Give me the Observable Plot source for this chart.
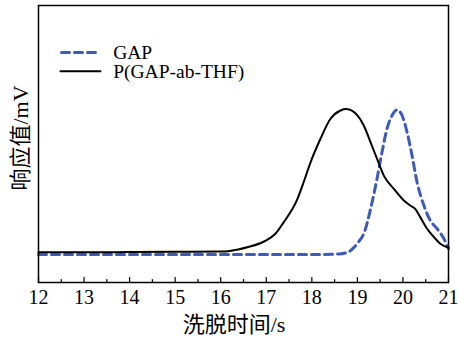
<!DOCTYPE html>
<html>
<head>
<meta charset="utf-8">
<script src="https://cdn.jsdelivr.net/npm/d3@7"></script>
<script src="https://cdn.jsdelivr.net/npm/@observablehq/plot@0.6"></script>
<style>
  html, body { margin: 0; padding: 0; background: #fff; }
</style>
</head>
<body>
<div id="chart"></div>
<script>
// Elution time (s) and response (arbitrary mV scale)
const gapTime = [12, 13, 14, 15, 16, 17, 18, 18.6, 18.8, 18.92, 19.05, 19.14, 19.29, 19.43, 19.54, 19.65, 19.76, 19.87, 19.98, 20.09, 20.2, 20.31, 20.46, 20.6, 20.75, 20.9, 21];
const gapValue = [10.1, 10.1, 10.1, 10.1, 10.1, 10.1, 10.1, 10.3, 11.0, 12.6, 15.2, 17.6, 26.6, 37.4, 47.0, 55.5, 60.3, 62.3, 60.3, 54.3, 45.8, 36.2, 27.8, 22.4, 19.4, 15.8, 12.2];

const copTime = [12, 13, 14, 15, 16, 16.2, 16.6, 16.95, 17.2, 17.38, 17.68, 17.82, 17.97, 18.19, 18.41, 18.63, 18.76, 19.0, 19.14, 19.29, 19.43, 19.58, 19.8, 20.02, 20.16, 20.27, 20.38, 20.53, 20.68, 20.82, 21];
const copValue = [10.9, 10.9, 11.0, 11.1, 11.2, 11.4, 12.8, 14.8, 17.6, 21.7, 30.0, 36.2, 43.3, 51.9, 59.1, 62.1, 62.6, 60.3, 56.7, 50.6, 44.7, 38.6, 33.8, 29.6, 27.8, 26.6, 23.6, 19.4, 16.4, 14.0, 12.6];

const seriesNames = ["GAP", "P(GAP-ab-THF)"];
const majorTicks = [12, 13, 14, 15, 16, 17, 18, 19, 20, 21];
const minorTicks = [12.5, 13.5, 14.5, 15.5, 16.5, 17.5, 18.5, 19.5, 20.5];
const xLabel = "洗脱时间/s";
const yLabel = "响应值/mV";

const gapData = gapTime.map((t, i) => ({t, v: gapValue[i]}));
const copData = copTime.map((t, i) => ({t, v: copValue[i]}));

const serif = "Liberation Serif, Times New Roman, DejaVu Serif, Noto Sans CJK SC, serif";
const blue = "#3F5BB5";

const vTick = { draw(context, l) { context.moveTo(0, 0); context.lineTo(0, -l); } };
const hLine = { draw(context, l) { context.moveTo(0, 0); context.lineTo(l, 0); } };

const chart = Plot.plot({
  width: 458,
  height: 341,
  marginLeft: 38,
  marginRight: 10,
  marginTop: 5,
  marginBottom: 59,
  style: { background: "#fff", color: "#000", fontFamily: serif },
  x: { domain: [12, 21] },
  y: { domain: [0, 100], axis: null },
  marks: [
    Plot.line(gapData, { x: "t", y: "v", stroke: blue, strokeWidth: 3, strokeDasharray: "8,5", curve: "monotone-x" }),
    Plot.line(copData, { x: "t", y: "v", stroke: "#000", strokeWidth: 2, curve: "monotone-x" }),
    Plot.vector(majorTicks, { x: d => d, frameAnchor: "bottom", length: 5, anchor: "start", shape: vTick, stroke: "#000", strokeWidth: 1.2 }),
    Plot.vector(minorTicks, { x: d => d, frameAnchor: "bottom", length: 3, anchor: "start", shape: vTick, stroke: "#000", strokeWidth: 1.2 }),
    Plot.axisX(majorTicks, { tickSize: 0, tickPadding: 7, fontSize: 20, fontFamily: serif, label: null, tickFormat: d => String(d) }),
    Plot.frame({ stroke: "#000", strokeWidth: 1.5 }),
    // legend
    Plot.vector([seriesNames[0]], { frameAnchor: "top-left", dx: 23, dy: 47, length: 39, anchor: "start", shape: hLine, stroke: blue, strokeWidth: 3, strokeDasharray: "8,5" }),
    Plot.vector([seriesNames[1]], { frameAnchor: "top-left", dx: 22, dy: 65.7, length: 40, anchor: "start", shape: hLine, stroke: "#000", strokeWidth: 2 }),
    Plot.text([seriesNames[0]], { text: d => d, frameAnchor: "top-left", dx: 74.7, dy: 47, textAnchor: "start", lineAnchor: "middle", fontSize: 19.5, fontFamily: serif, fill: "#000" }),
    Plot.text([seriesNames[1]], { text: d => d, frameAnchor: "top-left", dx: 74.7, dy: 66.5, textAnchor: "start", lineAnchor: "middle", fontSize: 19.5, fontFamily: serif, fill: "#000" }),
    // axis titles
    Plot.text([xLabel], { text: d => d, frameAnchor: "bottom", dx: -9.5, dy: 42, textAnchor: "middle", lineAnchor: "middle", fontSize: 22, fontFamily: serif, fill: "#000" }),
    Plot.text([yLabel], { text: d => d, frameAnchor: "left", dx: -18, dy: -6, rotate: -90, textAnchor: "middle", lineAnchor: "middle", fontSize: 22, fontFamily: serif, fill: "#000" })
  ]
});
document.getElementById("chart").appendChild(chart);
</script>
</body>
</html>
